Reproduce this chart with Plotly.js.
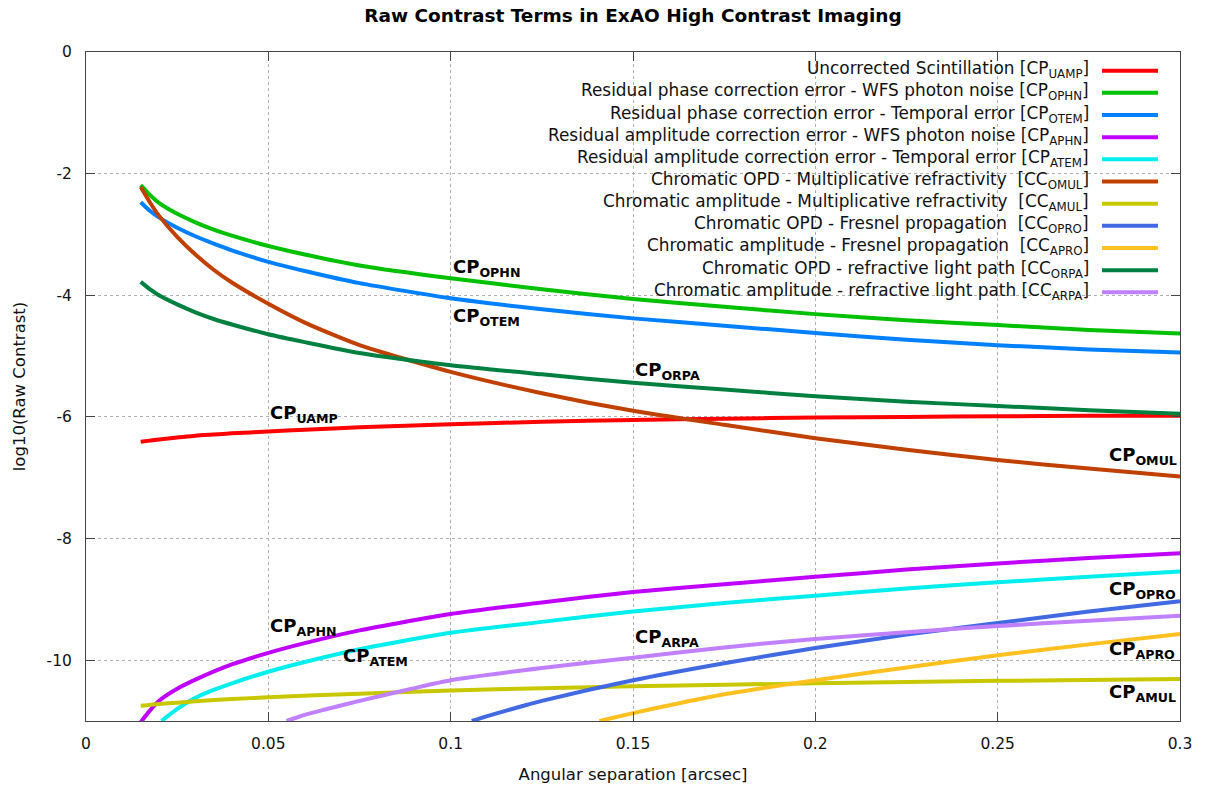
<!DOCTYPE html>
<html>
<head>
<meta charset="utf-8">
<script src="https://cdn.plot.ly/plotly-3.0.1.min.js"></script>
<style>html,body{margin:0;padding:0;background:#fff;}#chart{width:1205px;height:791px;}</style>
</head>
<body>
<div id="chart"></div>
<script>
// ---- data ----
const xMain = [0.015,0.0175,0.02,0.025,0.03,0.035,0.04,0.05,0.06,0.075,0.1,0.125,0.15,0.175,0.2,0.225,0.25,0.275,0.3];

const yUAMP = [-6.41,-6.39,-6.37,-6.34,-6.31,-6.29,-6.27,-6.24,-6.21,-6.17,-6.12,-6.08,-6.05,-6.03,-6.01,-6.00,-5.99,-5.98,-5.98];
const yOPHN = [-2.19,-2.35,-2.48,-2.66,-2.80,-2.92,-3.02,-3.19,-3.33,-3.51,-3.72,-3.90,-4.06,-4.19,-4.31,-4.41,-4.49,-4.57,-4.63];
const yOTEM = [-2.47,-2.61,-2.72,-2.89,-3.03,-3.15,-3.26,-3.45,-3.60,-3.80,-4.05,-4.23,-4.38,-4.50,-4.62,-4.73,-4.82,-4.89,-4.94];
const yORPA = [-3.78,-3.90,-4.00,-4.15,-4.28,-4.39,-4.48,-4.64,-4.77,-4.95,-5.15,-5.30,-5.44,-5.55,-5.66,-5.75,-5.82,-5.89,-5.95];
const yOMUL = [-2.22,-2.47,-2.69,-3.04,-3.33,-3.58,-3.79,-4.14,-4.45,-4.82,-5.26,-5.61,-5.90,-6.13,-6.35,-6.54,-6.71,-6.85,-6.98];

const xAPHN = [0.015,0.0175,0.02,0.025,0.03,0.04,0.05,0.06,0.075,0.1,0.125,0.15,0.175,0.2,0.225,0.25,0.275,0.3];
const yAPHN = [-11.02,-10.83,-10.67,-10.47,-10.32,-10.07,-9.88,-9.72,-9.51,-9.24,-9.05,-8.88,-8.75,-8.63,-8.51,-8.41,-8.32,-8.24];

const xATEM = [0.0207,0.025,0.03,0.035,0.04,0.05,0.06,0.075,0.1,0.125,0.15,0.175,0.2,0.225,0.25,0.275,0.3];
const yATEM = [-11.0,-10.80,-10.62,-10.49,-10.38,-10.19,-10.03,-9.82,-9.55,-9.37,-9.20,-9.06,-8.94,-8.82,-8.72,-8.63,-8.54];

const xAMUL = [0.015,0.02,0.025,0.03,0.04,0.05,0.075,0.1,0.125,0.15,0.2,0.25,0.3];
const yAMUL = [-10.75,-10.72,-10.70,-10.675,-10.64,-10.61,-10.55,-10.50,-10.46,-10.43,-10.38,-10.34,-10.31];

const xOPRO = [0.1058,0.11,0.12,0.125,0.15,0.175,0.2,0.225,0.25,0.275,0.3];
const yOPRO = [-11.0,-10.92,-10.75,-10.67,-10.33,-10.05,-9.80,-9.58,-9.39,-9.20,-9.03];

const xAPRO = [0.1408,0.15,0.16,0.175,0.2,0.225,0.25,0.275,0.3];
const yAPRO = [-11.0,-10.87,-10.74,-10.56,-10.33,-10.12,-9.92,-9.74,-9.57];

const xARPA = [0.055,0.06,0.065,0.075,0.09,0.1,0.125,0.15,0.175,0.2,0.225,0.25,0.275,0.3];
const yARPA = [-11.0,-10.90,-10.82,-10.67,-10.46,-10.33,-10.13,-9.96,-9.79,-9.65,-9.54,-9.44,-9.35,-9.27];

const legendMain = [
  "Uncorrected Scintillation [CP",
  "Residual phase correction error - WFS photon noise [CP",
  "Residual phase correction error - Temporal error [CP",
  "Residual amplitude correction error - WFS photon noise [CP",
  "Residual amplitude correction error - Temporal error [CP",
  "Chromatic OPD - Multiplicative refractivity&nbsp; [CC",
  "Chromatic amplitude - Multiplicative refractivity&nbsp; [CC",
  "Chromatic OPD - Fresnel propagation&nbsp; [CC",
  "Chromatic amplitude - Fresnel propagation&nbsp; [CC",
  "Chromatic OPD - refractive light path [CC",
  "Chromatic amplitude - refractive light path [CC"
];
const legendSub = ["UAMP","OPHN","OTEM","APHN","ATEM","OMUL","AMUL","OPRO","APRO","ORPA","ARPA"];

// curve labels: text, x, y (data coordinates)
const curveLabelText = ["UAMP","OPHN","OTEM","ORPA","OMUL","APHN","ATEM","ARPA","OPRO","APRO","AMUL"];
const curveLabelX    = [0.05, 0.1, 0.1, 0.15, 0.28, 0.05, 0.07, 0.15, 0.28, 0.28, 0.28];
const curveLabelY    = [-5.96,-3.55,-4.35,-5.24,-6.64,-9.45,-9.94,-9.64,-8.85,-9.84,-10.54];

const xTicks = [0,0.05,0.1,0.15,0.2,0.25,0.3];
const xTickText = ["0","0.05","0.1","0.15","0.2","0.25","0.3"];
const yTicks = [0,-2,-4,-6,-8,-10];
const yTickText = ["0","-2","-4","-6","-8","-10"];

// ---- series in plotting order (same as legend) ----
const series = [
  {x: xMain, y: yUAMP, color: "#ff0000"},
  {x: xMain, y: yOPHN, color: "#00c000"},
  {x: xMain, y: yOTEM, color: "#0080ff"},
  {x: xAPHN, y: yAPHN, color: "#c000ff"},
  {x: xATEM, y: yATEM, color: "#00eeee"},
  {x: xMain, y: yOMUL, color: "#c04000"},
  {x: xAMUL, y: yAMUL, color: "#c8c800"},
  {x: xOPRO, y: yOPRO, color: "#4169e1"},
  {x: xAPRO, y: yAPRO, color: "#ffc020"},
  {x: xMain, y: yORPA, color: "#008040"},
  {x: xARPA, y: yARPA, color: "#c080ff"}
];

const traces = series.map(s => ({
  x: s.x, y: s.y, type: "scatter", mode: "lines",
  line: {color: s.color, width: 4, shape: "spline", smoothing: 0.6},
  showlegend: false, hoverinfo: "x+y"
}));

const FONT = "DejaVu Sans, Liberation Sans, Arial, sans-serif";

// plot area in pixels (for paper-coordinate key construction)
const W = 1205, H = 791, ML = 86, MR = 25, MT = 52, MB = 70;
const PW = W - ML - MR, PH = H - MT - MB;
const px2paperX = px => (px - ML) / PW;
const py2paperY = py => 1 - (py - MT) / PH;

const annotations = [];
const shapes = [];

// white area of the key (hides the grid behind it)
shapes.push({type: "rect", xref: "paper", yref: "paper", layer: "between",
  x0: px2paperX(406), x1: 1, y0: py2paperY(302), y1: 1,
  fillcolor: "#ffffff", line: {width: 0}});

legendMain.forEach((lab, i) => {
  const py = 70.7 + i * 22.16;
  const text = lab + "<sub>" + legendSub[i] + "</sub>]";
  annotations.push({xref: "paper", yref: "paper", x: px2paperX(1091), y: py2paperY(py - 1),
    xanchor: "right", yanchor: "middle", showarrow: false, text: text,
    font: {family: FONT, size: 16.9, color: "#111"}});
  shapes.push({type: "line", xref: "paper", yref: "paper",
    x0: px2paperX(1102), x1: px2paperX(1158), y0: py2paperY(py), y1: py2paperY(py),
    line: {color: series[i].color, width: 4}});
});

curveLabelText.forEach((t, i) => {
  annotations.push({xref: "x", yref: "y", x: curveLabelX[i], y: curveLabelY[i],
    xanchor: "left", yanchor: "middle", showarrow: false,
    text: "<b>CP<sub>" + t + "</sub></b>",
    font: {family: FONT, size: 18, color: "#000"}});
});

const layout = {
  width: W, height: H,
  margin: {l: ML, r: MR, t: MT, b: MB},
  paper_bgcolor: "#fff", plot_bgcolor: "#fff",
  title: {text: "<b>Raw Contrast Terms in ExAO High Contrast Imaging</b>",
    xref: "paper", x: 0.5, xanchor: "center", y: 1 - 16 / H, yanchor: "middle",
    font: {family: FONT, size: 18.5, color: "#000"}},
  xaxis: {
    range: [0, 0.3], tickvals: xTicks, ticktext: xTickText,
    ticks: "inside", ticklen: 9, tickcolor: "#444", tickwidth: 1,
    showline: true, linecolor: "#444", linewidth: 1, mirror: "ticks",
    showgrid: true, gridcolor: "#b0b0b0", griddash: "dot", gridwidth: 1,
    zeroline: false, ticklabelstandoff: 8,
    tickfont: {family: FONT, size: 15.5, color: "#111"},
    title: {text: "Angular separation [arcsec]", standoff: 16,
      font: {family: FONT, size: 16.5, color: "#111"}}
  },
  yaxis: {
    range: [-11, 0], tickvals: yTicks, ticktext: yTickText,
    ticks: "inside", ticklen: 9, tickcolor: "#444", tickwidth: 1,
    showline: true, linecolor: "#444", linewidth: 1, mirror: "ticks",
    showgrid: true, gridcolor: "#b0b0b0", griddash: "dot", gridwidth: 1,
    zeroline: false, ticklabelstandoff: 10,
    tickfont: {family: FONT, size: 15.5, color: "#111"},
    title: {text: "log10(Raw Contrast)", standoff: 16,
      font: {family: FONT, size: 16.5, color: "#111"}}
  },
  shapes: shapes,
  annotations: annotations,
  showlegend: false
};

Plotly.newPlot("chart", traces, layout, {displayModeBar: false, staticPlot: true});
</script>
</body>
</html>
